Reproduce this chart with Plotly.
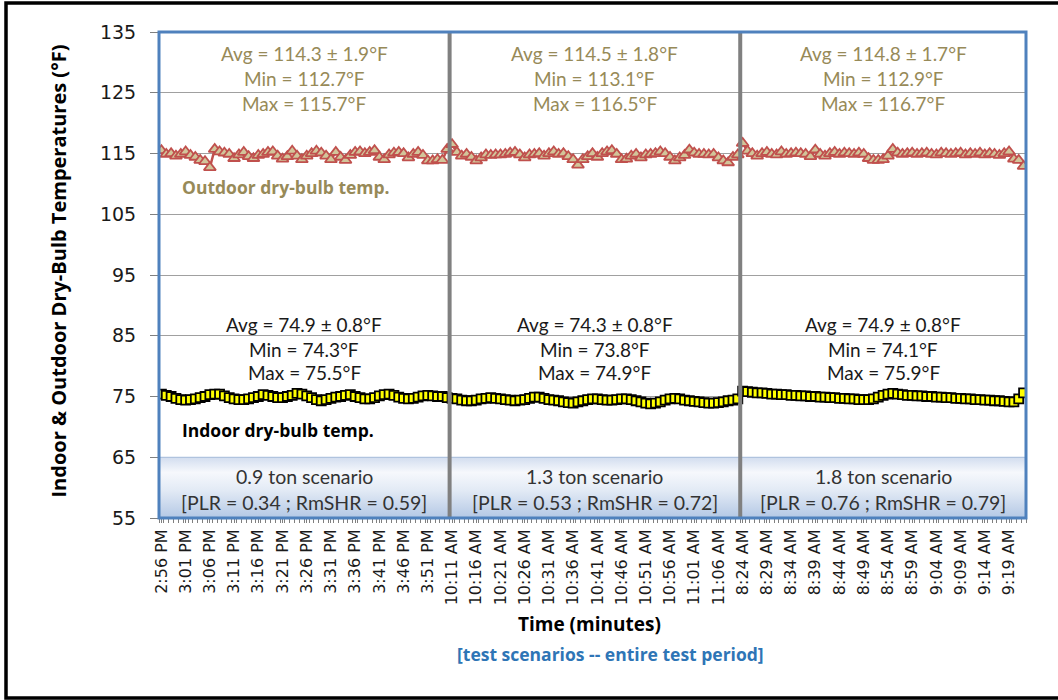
import plotly.graph_objects as go

# ---- category (time) tick labels, one every 5 one-minute samples ----
tick_labels = [
    "2:56 PM", "3:01 PM", "3:06 PM", "3:11 PM", "3:16 PM", "3:21 PM",
    "3:26 PM", "3:31 PM", "3:36 PM", "3:41 PM", "3:46 PM", "3:51 PM",
    "10:11 AM", "10:16 AM", "10:21 AM", "10:26 AM", "10:31 AM", "10:36 AM",
    "10:41 AM", "10:46 AM", "10:51 AM", "10:56 AM", "11:01 AM", "11:06 AM",
    "8:24 AM", "8:29 AM", "8:34 AM", "8:39 AM", "8:44 AM", "8:49 AM",
    "8:54 AM", "8:59 AM", "9:04 AM", "9:09 AM", "9:14 AM", "9:19 AM",
]
label_step = 5

# ---- outdoor dry-bulb temperature (F), one value per minute ----
outdoor_s1 = [
    115.5, 114.9, 115.0, 114.6, 114.9, 115.3, 114.7, 114.4, 113.9, 113.7,
    112.7, 115.7, 115.3, 115.1, 114.9, 114.2, 114.8, 115.2, 114.5, 114.2,
    114.7, 114.9, 115.2, 115.3, 114.6, 114.1, 114.5, 115.4, 114.6, 114.0,
    114.6, 115.0, 115.4, 115.1, 114.6, 114.0, 115.2, 114.4, 113.9, 114.7,
    115.2, 115.3, 115.0, 115.2, 115.5, 114.4, 114.0, 114.8, 115.1, 115.2,
    115.0, 114.3, 114.9, 115.2, 114.7, 113.8, 113.8, 114.0, 113.9, 115.7,
]
outdoor_s2 = [
    116.5, 115.2, 114.6, 114.9, 114.4, 113.8, 114.3, 114.8, 114.7, 114.8,
    114.8, 114.9, 115.1, 115.2, 114.8, 114.3, 114.8, 114.9, 115.0, 114.6,
    115.0, 115.3, 114.9, 115.0, 114.5, 114.0, 113.1, 114.0, 114.5, 115.0,
    114.4, 115.0, 115.3, 115.5, 114.9, 114.0, 114.1, 114.6, 114.9, 114.3,
    114.8, 114.9, 115.0, 115.3, 115.0, 114.4, 113.8, 114.3, 114.7, 115.6,
    115.1, 114.9, 114.9, 114.8, 114.9, 114.3, 113.8, 113.5, 114.4, 114.8,
]
outdoor_s3 = [
    116.7, 115.4, 115.0, 114.6, 115.0, 115.2, 114.9, 114.8, 115.3, 114.9,
    115.0, 115.1, 115.0, 114.9, 114.5, 115.6, 114.9, 114.6, 115.0, 115.2,
    114.9, 115.1, 115.0, 114.9, 115.1, 114.9, 114.2, 113.9, 113.9, 114.0,
    114.6, 115.7, 115.1, 114.9, 115.0, 115.1, 114.9, 115.0, 115.1, 114.9,
    114.8, 115.1, 115.0, 114.9, 115.0, 115.1, 114.8, 115.0, 114.9, 115.1,
    114.8, 115.0, 114.9, 114.7, 115.0, 115.3, 114.1, 113.9, 112.9,
]

# ---- indoor dry-bulb temperature (F) ----
indoor_s1 = [
    75.4, 75.2, 75.0, 74.7, 74.5, 74.4, 74.5, 74.6, 74.8, 75.0,
    75.3, 75.4, 75.4, 75.1, 74.8, 74.6, 74.5, 74.5, 74.6, 74.8,
    75.0, 75.3, 75.2, 75.0, 74.8, 74.8, 75.0, 75.2, 75.5, 75.4,
    75.1, 74.8, 74.5, 74.3, 74.5, 74.7, 74.9, 75.0, 75.2, 75.3,
    75.0, 74.8, 74.6, 74.6, 74.8, 75.1, 75.3, 75.4, 75.2, 74.9,
    74.7, 74.6, 74.7, 74.9, 75.1, 75.2, 75.1, 75.0, 75.0, 74.8,
]
indoor_s2 = [
    74.7, 74.6, 74.4, 74.3, 74.3, 74.4, 74.6, 74.7, 74.8, 74.7,
    74.6, 74.5, 74.4, 74.3, 74.4, 74.5, 74.7, 74.9, 74.9, 74.7,
    74.5, 74.4, 74.3, 74.1, 74.0, 73.9, 74.1, 74.3, 74.5, 74.6,
    74.6, 74.5, 74.4, 74.4, 74.5, 74.6, 74.6, 74.5, 74.3, 74.1,
    73.9, 73.8, 73.9, 74.1, 74.4, 74.6, 74.7, 74.6, 74.4, 74.3,
    74.2, 74.1, 74.0, 73.9, 73.9, 74.0, 74.1, 74.3, 74.4, 74.6,
]
indoor_s3 = [
    75.9, 75.8, 75.7, 75.6, 75.6, 75.5, 75.4, 75.4, 75.3, 75.3,
    75.2, 75.2, 75.1, 75.1, 75.0, 75.0, 74.9, 74.9, 74.8, 74.8,
    74.7, 74.7, 74.6, 74.6, 74.5, 74.5, 74.5, 74.6, 74.9, 75.2,
    75.4, 75.5, 75.4, 75.3, 75.2, 75.2, 75.1, 75.1, 75.0, 75.0,
    74.9, 74.9, 74.8, 74.8, 74.7, 74.7, 74.6, 74.6, 74.5, 74.5,
    74.4, 74.4, 74.3, 74.3, 74.2, 74.1, 74.1, 74.6, 75.6,
]

# ---- per-scenario statistics and descriptions ----
outdoor_stats = [
    ("Avg = 114.3 ± 1.9°F", "Min = 112.7°F", "Max = 115.7°F"),
    ("Avg = 114.5 ± 1.8°F", "Min = 113.1°F", "Max = 116.5°F"),
    ("Avg = 114.8 ± 1.7°F", "Min = 112.9°F", "Max = 116.7°F"),
]
indoor_stats = [
    ("Avg = 74.9 ± 0.8°F", "Min = 74.3°F", "Max = 75.5°F"),
    ("Avg = 74.3 ± 0.8°F", "Min = 73.8°F", "Max = 74.9°F"),
    ("Avg = 74.9 ± 0.8°F", "Min = 74.1°F", "Max = 75.9°F"),
]
scenario_names = ["0.9 ton scenario", "1.3 ton scenario", "1.8 ton scenario"]
scenario_ratios = [
    "[PLR = 0.34 ; RmSHR = 0.59]",
    "[PLR = 0.53 ; RmSHR = 0.72]",
    "[PLR = 0.76 ; RmSHR = 0.79]",
]

# ---------------------------------------------------------------------------
outdoor = outdoor_s1 + outdoor_s2 + outdoor_s3
indoor = indoor_s1 + indoor_s2 + indoor_s3
n = len(outdoor)
x = list(range(n))
sizes = [len(outdoor_s1), len(outdoor_s2), len(outdoor_s3)]
bounds = [-0.5]
for s in sizes:
    bounds.append(bounds[-1] + s)

Y_MIN, Y_MAX = 55, 135
W, H = 1058, 700
ML, MR, MT, MB = 159, 32, 32, 182
PW, PH = W - ML - MR, H - MT - MB


def px_x(p):
    return (p - ML) / PW


def px_y(p):
    return (H - MB - p) / PH


REG = "Lato"
BOLD = "Open Sans"
TICKF = "DejaVu Sans"
KHAKI = "#978a58"

fig = go.Figure()

# gradient scenario boxes along the bottom of each test period
for k in range(3):
    x0, x1 = bounds[k], bounds[k + 1]
    fig.add_trace(go.Scatter(
        x=[x0, x1, x1, x0, x0], y=[55, 55, 65, 65, 55],
        mode="lines", fill="toself",
        fillgradient=dict(type="vertical", colorscale=[
            [0.0, "#b4c8e5"], [0.45, "#e2eaf5"], [0.75, "#f6f8fc"], [1.0, "#d2ddef"]]),
        line=dict(color="#a9c0e0", width=1),
        hoverinfo="skip", showlegend=False,
    ))

fig.add_trace(go.Scatter(
    x=x, y=outdoor, mode="lines+markers", name="Outdoor dry-bulb temp.",
    line=dict(color="#c0504d", width=2.5),
    marker=dict(symbol="triangle-up", size=10.5, color="#d2c59a",
                line=dict(color="#c0504d", width=1.8)),
    showlegend=False,
))
fig.add_trace(go.Scatter(
    x=x, y=indoor, mode="lines+markers", name="Indoor dry-bulb temp.",
    line=dict(color="#000000", width=3.5),
    marker=dict(symbol="square", size=9, color="#ffff00",
                line=dict(color="#000000", width=1.8)),
    showlegend=False,
))

shapes = []
# vertical separators between the test periods
for b in bounds[1:-1]:
    shapes.append(dict(type="line", xref="x", yref="y", x0=b, x1=b, y0=Y_MIN, y1=Y_MAX,
                       line=dict(color="#808080", width=4), layer="above"))
# plot-area border
shapes.append(dict(type="rect", xref="paper", yref="paper", x0=0, x1=1, y0=0, y1=1,
                   line=dict(color="#4f81bd", width=3), layer="above"))
# outer chart frame (left, top and bottom edges visible)
shapes.append(dict(type="rect", xref="paper", yref="paper",
                   x0=px_x(6), x1=px_x(W + 60), y0=px_y(H - 2), y1=px_y(3),
                   line=dict(color="#000000", width=3.5), layer="above"))

annotations = []
stat_rows_out = [131.4, 127.4, 123.3]
stat_rows_in = [86.8, 82.8, 78.9]
for k in range(3):
    cx = (bounds[k] + bounds[k + 1]) / 2
    for txt, yy in zip(outdoor_stats[k], stat_rows_out):
        annotations.append(dict(x=cx, y=yy, xref="x", yref="y", text=txt, showarrow=False,
                                font=dict(family=REG, size=19, color=KHAKI)))
    for txt, yy in zip(indoor_stats[k], stat_rows_in):
        annotations.append(dict(x=cx, y=yy, xref="x", yref="y", text=txt, showarrow=False,
                                font=dict(family=REG, size=19, color="#1a1a1a")))
    annotations.append(dict(x=cx, y=61.9, xref="x", yref="y", text=scenario_names[k],
                            showarrow=False, font=dict(family=REG, size=19.5, color="#333333")))
    annotations.append(dict(x=cx, y=57.6, xref="x", yref="y", text=scenario_ratios[k],
                            showarrow=False, font=dict(family=REG, size=19.5, color="#333333")))

annotations.append(dict(x=3.8, y=109.5, xref="x", yref="y", xanchor="left",
                        text="<b>Outdoor dry-bulb temp.</b>", showarrow=False,
                        font=dict(family=BOLD, size=17.5, color=KHAKI)))
annotations.append(dict(x=3.8, y=69.5, xref="x", yref="y", xanchor="left",
                        text="<b>Indoor dry-bulb temp.</b>", showarrow=False,
                        font=dict(family=BOLD, size=17.5, color="#000000")))

# axis titles
annotations.append(dict(x=px_x(42), y=px_y(271), xref="paper", yref="paper", textangle=-90,
                        text="<b>Indoor & Outdoor Dry-Bulb Temperatures (°F)</b>",
                        showarrow=False, font=dict(family=BOLD, size=20, color="#000000")))
annotations.append(dict(x=px_x(589), y=px_y(639), xref="paper", yref="paper",
                        text="<b>Time (minutes)</b>", showarrow=False,
                        font=dict(family=BOLD, size=19, color="#000000")))
annotations.append(dict(x=px_x(610), y=px_y(668), xref="paper", yref="paper",
                        text="<b>[test scenarios -- entire test period]</b>", showarrow=False,
                        font=dict(family=BOLD, size=17.5, color="#2e75b6")))

fig.update_layout(
    width=W, height=H,
    margin=dict(l=ML, r=MR, t=MT, b=MB),
    paper_bgcolor="white", plot_bgcolor="white",
    shapes=shapes, annotations=annotations,
)
fig.update_xaxes(
    range=[bounds[0], bounds[-1]],
    tickmode="array",
    tickvals=list(range(0, n, label_step))[:len(tick_labels)],
    ticktext=tick_labels,
    tickangle=-90,
    tickfont=dict(family=TICKF, size=16, color="#1a1a1a"),
    ticks="outside", ticklen=4, tickcolor="#808080",
    minor=dict(tickmode="linear", tick0=-0.5, dtick=1, ticks="outside",
               ticklen=4, tickcolor="#808080", showgrid=False),
    showgrid=False, zeroline=False, showline=False,
)
fig.update_yaxes(
    range=[Y_MIN, Y_MAX], tickmode="linear", tick0=Y_MIN, dtick=10,
    tickfont=dict(family=TICKF, size=19, color="#1a1a1a"),
    ticks="outside", ticklen=8, tickcolor="#808080", ticklabelstandoff=10,
    showgrid=True, gridcolor="#a0a0a0", gridwidth=1,
    zeroline=False, showline=False,
)

fig.write_html("out.html")
